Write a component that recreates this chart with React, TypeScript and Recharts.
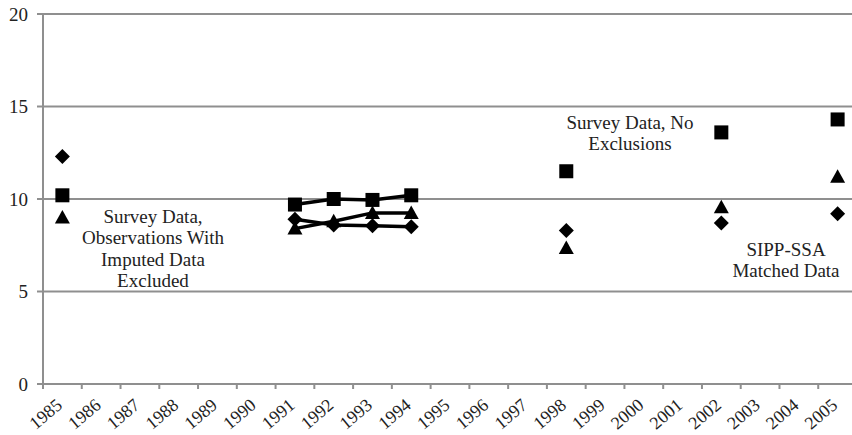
import React from 'react';
import { ComposedChart, Line, XAxis, YAxis, CartesianGrid, Customized } from 'recharts';

const years = [
  1985, 1986, 1987, 1988, 1989, 1990, 1991, 1992, 1993, 1994, 1995,
  1996, 1997, 1998, 1999, 2000, 2001, 2002, 2003, 2004, 2005,
];

// squares
const squareValues = [
  10.2, null, null, null, null, null, 9.7, 10.0, 9.95, 10.2, null,
  null, null, 11.5, null, null, null, 13.6, null, null, 14.3,
];

// diamonds
const diamondValues = [
  12.3, null, null, null, null, null, 8.9, 8.6, 8.55, 8.5, null,
  null, null, 8.3, null, null, null, 8.7, null, null, 9.2,
];

// triangles
const triangleValues = [
  9.0, null, null, null, null, null, 8.4, 8.8, 9.25, 9.25, null,
  null, null, 7.35, null, null, null, 9.55, null, null, 11.2,
];

const yTicks = [0, 5, 10, 15, 20];

const CHART_W = 860;
const CHART_H = 435;
const X_AXIS_H = 51;
const AXIS_Y = CHART_H - X_AXIS_H;
const Y_AXIS_W = 43;
const MARGIN_RIGHT = 3;
const HALF_BAND = (CHART_W - Y_AXIS_W - MARGIN_RIGHT) / years.length / 2;

const FONT = '"Liberation Serif", "Times New Roman", serif';
const GREY = '#8f8f8f';

const data = years.map((year, i) => ({
  x: year + 0.5,
  year,
  square: squareValues[i],
  diamond: diamondValues[i],
  triangle: triangleValues[i],
}));

const SquareDot = (props: any) => {
  const { cx, cy, value, index } = props;
  if (value == null || cy == null) return <g key={`s${index}`} />;
  return <rect key={`s${index}`} x={cx - 7} y={cy - 7} width={14} height={14} fill="#000" />;
};

const DiamondDot = (props: any) => {
  const { cx, cy, value, index } = props;
  if (value == null || cy == null) return <g key={`d${index}`} />;
  return (
    <polygon
      key={`d${index}`}
      points={`${cx},${cy - 7.5} ${cx + 7.5},${cy} ${cx},${cy + 7.5} ${cx - 7.5},${cy}`}
      fill="#000"
    />
  );
};

const TriangleDot = (props: any) => {
  const { cx, cy, value, index } = props;
  if (value == null || cy == null) return <g key={`t${index}`} />;
  return (
    <polygon
      key={`t${index}`}
      points={`${cx},${cy - 7.5} ${cx + 7.5},${cy + 6} ${cx - 7.5},${cy + 6}`}
      fill="#000"
    />
  );
};

// year label sits in the middle of its band, tick mark on the boundary
const YearTick = (props: any) => {
  const { x, payload } = props;
  const tx = x + HALF_BAND + 1;
  const ty = AXIS_Y + 23;
  return (
    <text
      x={tx}
      y={ty}
      transform={`rotate(-40, ${tx}, ${ty})`}
      textAnchor="end"
      fontFamily={FONT}
      fontSize={18}
      fill="#222"
    >
      {payload.value}
    </text>
  );
};

const Note = ({ x, y, lines }: { x: number; y: number; lines: string[] }) => (
  <text x={x} y={y} textAnchor="middle" fontFamily={FONT} fontSize={19} fill="#222">
    {lines.map((l, i) => (
      <tspan key={i} x={x} dy={i === 0 ? 0 : 21.3}>
        {l}
      </tspan>
    ))}
  </text>
);

const Notes = () => (
  <g>
    <Note x={153} y={223} lines={['Survey Data,', 'Observations With', 'Imputed Data', 'Excluded']} />
    <Note x={630} y={129} lines={['Survey Data, No', 'Exclusions']} />
    <Note x={786} y={256} lines={['SIPP-SSA', 'Matched Data']} />
  </g>
);

export default function App() {
  return (
    <div
      style={{
        position: 'absolute',
        left: 0,
        top: 0,
        width: 852,
        height: 435,
        overflow: 'hidden',
        background: '#fff',
      }}
    >
      <ComposedChart
        width={CHART_W}
        height={CHART_H}
        data={data}
        margin={{ top: 14, right: MARGIN_RIGHT, left: 0, bottom: 0 }}
      >
        <CartesianGrid vertical={false} stroke={GREY} strokeWidth={2} />
        <XAxis
          type="number"
          dataKey="x"
          domain={[1985, 2006]}
          ticks={years}
          interval={0}
          height={X_AXIS_H}
          tick={(p: any) => <YearTick {...p} />}
          tickSize={5}
          tickLine={{ stroke: GREY, strokeWidth: 2 }}
          axisLine={{ stroke: GREY, strokeWidth: 2 }}
        />
        <YAxis
          type="number"
          domain={[0, 20]}
          ticks={yTicks}
          width={Y_AXIS_W}
          tickSize={6}
          tickMargin={9}
          tickLine={{ stroke: GREY, strokeWidth: 2 }}
          axisLine={{ stroke: GREY, strokeWidth: 2 }}
          tick={{ fontFamily: FONT, fontSize: 19, fill: '#222' }}
        />
        <Line
          dataKey="diamond"
          stroke="#000"
          strokeWidth={3.5}
          dot={<DiamondDot />}
          activeDot={false}
          connectNulls={false}
          isAnimationActive={false}
        />
        <Line
          dataKey="triangle"
          stroke="#000"
          strokeWidth={3.5}
          dot={<TriangleDot />}
          activeDot={false}
          connectNulls={false}
          isAnimationActive={false}
        />
        <Line
          dataKey="square"
          stroke="#000"
          strokeWidth={3.5}
          dot={<SquareDot />}
          activeDot={false}
          connectNulls={false}
          isAnimationActive={false}
        />
        <Customized component={Notes} />
      </ComposedChart>
    </div>
  );
}
